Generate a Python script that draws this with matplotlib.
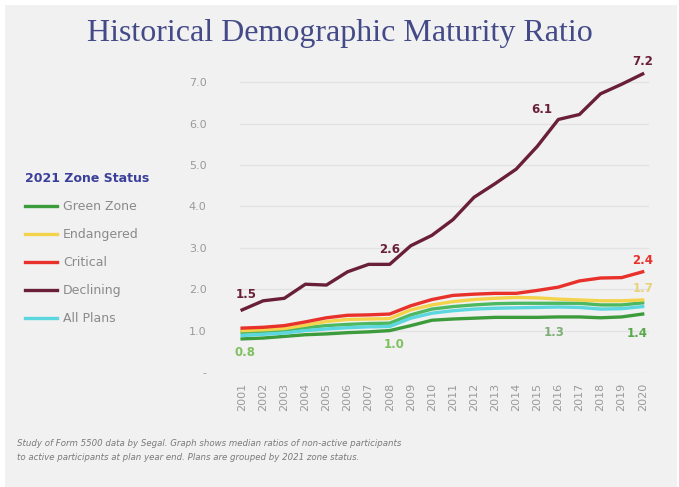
import matplotlib
matplotlib.use("Agg")
import matplotlib.pyplot as plt
from matplotlib.patches import Rectangle

years = list(range(2001, 2021))
year_labels = [str(y) for y in years]

green_zone = [0.80, 0.82, 0.86, 0.90, 0.92, 0.95, 0.97, 1.00, 1.12, 1.25,
              1.28, 1.30, 1.32, 1.32, 1.32, 1.33, 1.33, 1.31, 1.33, 1.40]
endangered = [1.00, 1.02, 1.05, 1.13, 1.22, 1.27, 1.28, 1.29, 1.50, 1.62,
              1.70, 1.75, 1.78, 1.80, 1.79, 1.76, 1.74, 1.72, 1.72, 1.74]
critical = [1.06, 1.08, 1.12, 1.21, 1.31, 1.37, 1.38, 1.40, 1.60, 1.75,
            1.85, 1.88, 1.90, 1.90, 1.97, 2.05, 2.20, 2.27, 2.28, 2.42]
declining = [1.50, 1.72, 1.78, 2.12, 2.10, 2.42, 2.60, 2.60, 3.05, 3.30,
             3.68, 4.22, 4.55, 4.90, 5.45, 6.10, 6.22, 6.72, 6.95, 7.20]
all_plans = [0.88, 0.91, 0.94, 1.00, 1.04, 1.07, 1.09, 1.10, 1.30, 1.42,
             1.48, 1.52, 1.54, 1.55, 1.56, 1.57, 1.56, 1.52, 1.53, 1.58]
other_green = [0.96, 0.98, 1.01, 1.07, 1.12, 1.15, 1.17, 1.18, 1.38, 1.52,
               1.58, 1.62, 1.65, 1.66, 1.66, 1.66, 1.66, 1.62, 1.62, 1.67]

series_names = ["Green Zone", "Endangered", "Critical", "Declining", "All Plans"]
yticks = [0, 1, 2, 3, 4, 5, 6, 7]
ytick_labels = ["-", "1.0", "2.0", "3.0", "4.0", "5.0", "6.0", "7.0"]

c_green = "#3c9c3c"
c_yellow = "#f4d34c"
c_red = "#e8312a"
c_decl = "#6a1f38"
c_cyan = "#5cd6df"
c_green2 = "#4cb862"
bg = "#f1f1f1"

fig = plt.figure(figsize=(6.79, 4.87), dpi=100, facecolor="white")
fig.patches.append(Rectangle((5/679, 0), 672/679, 482/487, transform=fig.transFigure,
                             facecolor=bg, edgecolor="none", zorder=-10))

ax = fig.add_axes([240/679, 115/487, 409/679, 310.5/487])
ax.set_facecolor(bg)
ax.patch.set_alpha(0)

lw = 2.4
l_green, = ax.plot(years, green_zone, color=c_green, lw=lw, zorder=3, label=series_names[0])
ax.plot(years, other_green, color=c_green2, lw=lw, zorder=3)
l_yel, = ax.plot(years, endangered, color=c_yellow, lw=lw, zorder=3, label=series_names[1])
l_red, = ax.plot(years, critical, color=c_red, lw=lw, zorder=4, label=series_names[2])
l_decl, = ax.plot(years, declining, color=c_decl, lw=lw, zorder=5, label=series_names[3])
l_cyan, = ax.plot(years, all_plans, color=c_cyan, lw=lw, zorder=3, label=series_names[4])

ax.set_xlim(2000.9, 2020.3)
ax.set_ylim(0, 7.5)
ax.set_yticks(yticks)
ax.set_yticklabels(ytick_labels)
ax.set_xticks(years)
ax.set_xticklabels(year_labels, rotation=90)
ax.tick_params(axis="both", length=0, colors="#9a9a9a", labelsize=8)
ax.tick_params(axis="y", pad=24)
ax.tick_params(axis="x", pad=8)
ax.grid(axis="y", color="#e2e2e2", lw=1)
ax.set_axisbelow(True)
for s in ax.spines.values():
    s.set_visible(False)

def lab(x, y, txt, color, dx=0, dy=0):
    ax.annotate(txt, (x, y), xytext=(dx, dy), textcoords="offset points",
                ha="center", va="center", fontsize=8.5, fontweight="bold", color=color)

lab(years[0], declining[0], "1.5", c_decl, 3, 11)
lab(years[7], declining[7], "2.6", c_decl, 0, 11)
lab(years[15], declining[15], "6.1", c_decl, -12, 7)
lab(years[19], declining[19], "7.2", c_decl, 0, 9)
lab(years[19], critical[19], "2.4", c_red, 0, 8)
lab(years[19], endangered[19], "1.7", "#e8d27a", 0, 8)
lab(years[19], green_zone[19], "1.4", "#5aa84a", -4, -14)
lab(years[15], green_zone[15], "1.3", "#7fae78", -3, -11)
lab(years[7], green_zone[7], "1.0", "#7fc060", 3, -10)
lab(years[0], green_zone[0], "0.8", "#7fc060", 2, -10)

fig.text(0.5, 1 - 33/487, "Historical Demographic Maturity Ratio", ha="center", va="center",
         fontsize=23, family="Liberation Serif", color="#444a88")

leg = fig.legend(handles=[l_green, l_yel, l_red, l_decl, l_cyan], labels=series_names,
                 loc="upper left", bbox_to_anchor=(14/679, 1 - 161/487), frameon=False,
                 title="2021 Zone Status", fontsize=9, handlelength=2.5, handletextpad=0.5,
                 labelspacing=1.2, alignment="left")
leg.get_title().set_fontweight("bold")
leg.get_title().set_color("#3a3f9a")
leg.get_title().set_fontsize(9)
for t in leg.get_texts():
    t.set_color("#8a8a8a")

fig.text(17/679, 1 - 443/487,
         "Study of Form 5500 data by Segal. Graph shows median ratios of non-active participants",
         fontsize=6.2, style="italic", color="#7a7a7a", va="center")
fig.text(17/679, 1 - 457/487,
         "to active participants at plan year end. Plans are grouped by 2021 zone status.",
         fontsize=6.2, style="italic", color="#7a7a7a", va="center")

fig.savefig("out.png", dpi=100, facecolor=fig.get_facecolor())
